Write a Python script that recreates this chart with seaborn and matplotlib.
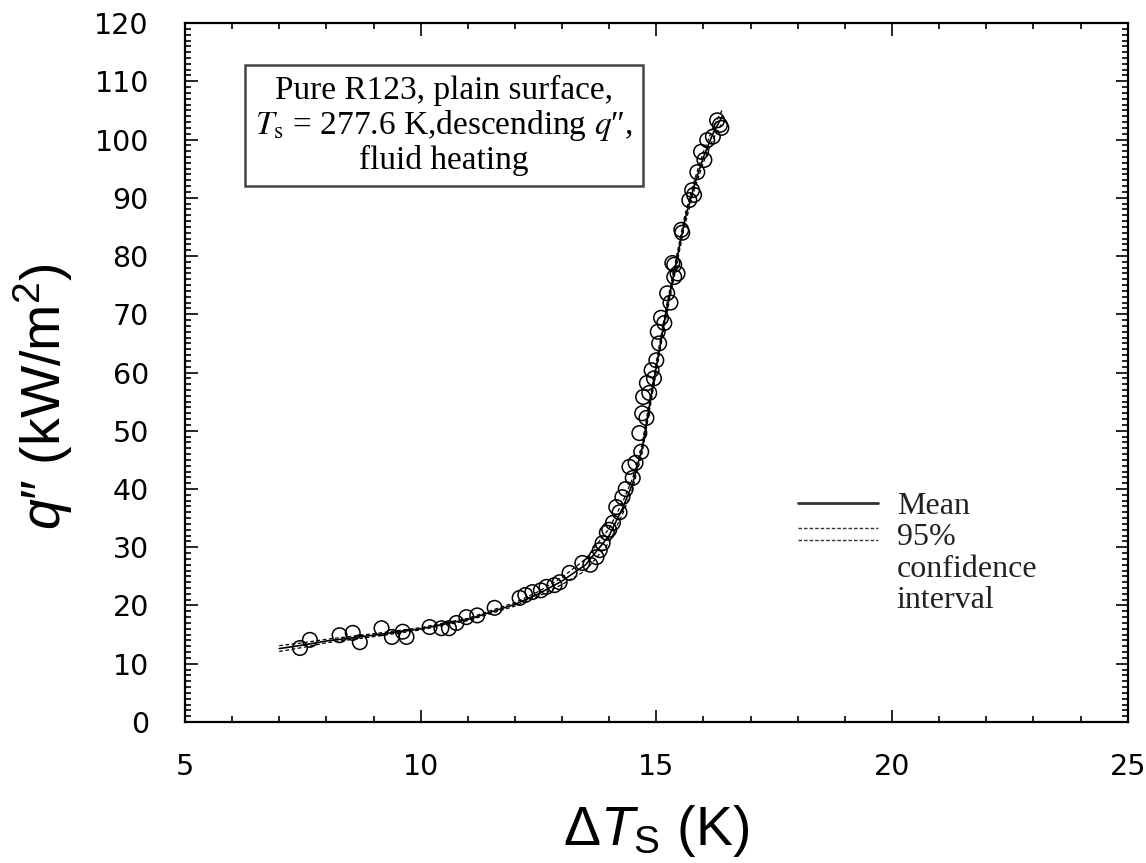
import numpy as np
import pandas as pd
import matplotlib
matplotlib.use("Agg")
import matplotlib.pyplot as plt
from matplotlib.ticker import MultipleLocator
import seaborn as sns

# measured points (delta T_s in K, q'' in kW/m2)
dts = [7.44, 7.65, 8.28, 8.56, 8.71, 9.17, 9.39, 9.62, 9.70, 10.19, 10.44, 10.60,
       10.76, 10.97, 11.20, 11.57, 12.10, 12.22, 12.37, 12.55, 12.67, 12.84, 12.95,
       13.16, 13.43, 13.60, 13.73, 13.80, 13.86, 13.95, 14.00, 14.08, 14.15, 14.22,
       14.28, 14.35, 14.43, 14.50, 14.56, 14.64, 14.68, 14.70, 14.72, 14.79, 14.80,
       14.85, 14.90, 14.95, 15.00, 15.03, 15.06, 15.10, 15.17, 15.23, 15.30, 15.34,
       15.38, 15.38, 15.45, 15.53, 15.55, 15.70, 15.76, 15.80, 15.87, 15.95, 16.02,
       16.08, 16.20, 16.29, 16.35, 16.38]
q = [12.7, 14.1, 14.9, 15.3, 13.7, 16.1, 14.6, 15.5, 14.6, 16.3, 16.1, 16.1,
     17.0, 18.0, 18.3, 19.6, 21.3, 21.8, 22.3, 22.6, 23.2, 23.5, 24.0,
     25.6, 27.3, 27.0, 28.3, 29.5, 30.7, 32.5, 33.0, 34.2, 36.9, 36.0,
     38.6, 40.0, 43.8, 41.9, 44.5, 49.6, 46.4, 53.0, 55.8, 52.2, 58.2,
     56.5, 60.4, 59.0, 62.1, 67.0, 65.0, 69.4, 68.5, 73.6, 72.0, 78.8,
     78.5, 76.4, 77.0, 84.5, 84.0, 89.6, 91.3, 90.5, 94.4, 97.9, 96.5,
     99.9, 100.5, 103.3, 102.5, 102.0]

# fitted mean and 95% confidence band
fit_dt = [7.0, 7.5, 8.0, 9.0, 10.0, 11.0, 12.0, 12.5, 13.0, 13.5, 14.0, 14.3, 14.5,
          14.7, 14.85, 15.0, 15.2, 15.4, 15.6, 15.8, 16.0, 16.2, 16.4]
fit_q = [12.6, 13.2, 13.9, 14.9, 16.0, 17.6, 20.2, 22.0, 24.2, 27.0, 32.0, 37.0, 41.0,
         47.0, 54.0, 61.0, 70.0, 78.0, 86.0, 92.0, 97.0, 101.0, 104.0]
ci_half = [0.5, 0.4, 0.3, 0.25, 0.2, 0.2, 0.3, 0.4, 0.6, 1.0, 1.2, 1.0, 0.9,
           0.8, 0.8, 0.8, 0.8, 0.8, 0.8, 0.8, 0.9, 1.0, 1.1]

sns.set_style("ticks")
plt.rcParams['font.family'] = ['Liberation Sans', 'DejaVu Sans']
plt.rcParams['mathtext.fontset'] = 'custom'
plt.rcParams['mathtext.rm'] = 'Liberation Sans'
plt.rcParams['mathtext.it'] = 'Liberation Sans:italic'
plt.rcParams['text.color'] = 'black'
plt.rcParams['axes.labelcolor'] = 'black'
plt.rcParams['xtick.color'] = 'black'
plt.rcParams['ytick.color'] = 'black'
plt.rcParams['axes.edgecolor'] = 'black'

pts = pd.DataFrame({'dT': dts, 'q': q})
fit = pd.DataFrame({'dT': fit_dt, 'q': fit_q})
fit['lo'] = fit['q'] - np.array(ci_half)
fit['hi'] = fit['q'] + np.array(ci_half)

fig = plt.figure(figsize=(11.46, 8.63), dpi=100)
ax = fig.add_axes([0.1614, 0.1634, 0.8226, 0.8099])

sns.lineplot(data=fit, x='dT', y='lo', ax=ax, color='black', lw=0.9, ls=(0, (3, 2)))
sns.lineplot(data=fit, x='dT', y='hi', ax=ax, color='black', lw=0.9, ls=(0, (3, 2)))
sns.lineplot(data=fit, x='dT', y='q', ax=ax, color='black', lw=1.2)
sns.scatterplot(data=pts, x='dT', y='q', ax=ax, marker='o', s=110,
                facecolor='none', edgecolor='black', linewidth=1.1, zorder=3)

ax.set_xlim(5, 25)
ax.set_ylim(0, 120)
ax.xaxis.set_major_locator(MultipleLocator(5))
ax.xaxis.set_minor_locator(MultipleLocator(1))
ax.yaxis.set_major_locator(MultipleLocator(10))
ax.yaxis.set_minor_locator(MultipleLocator(1))
ax.tick_params(which='both', direction='in', top=True, right=True, width=1.2)
ax.tick_params(which='major', length=9)
ax.tick_params(which='minor', length=4.5)
ax.tick_params(axis='x', which='major', pad=22, labelsize=20.5)
ax.tick_params(axis='y', which='major', pad=26, labelsize=20.5)
for lab in ax.get_xticklabels() + ax.get_yticklabels():
    lab.set_family('DejaVu Sans')
for sp in ax.spines.values():
    sp.set_linewidth(1.6)

ax.set_xlabel("$\\Delta T_\\mathrm{S}$ (K)", fontsize=40, va='center')
ax.set_ylabel("$q$\u2033 (kW/m$^2$)", fontsize=40, va='center')
ax.xaxis.set_label_coords(0.5, -0.156)
ax.yaxis.set_label_coords(-0.150, 0.466)

ax.text(0.275, 0.853, "Pure R123, plain surface,\n$T_\\mathrm{s}$ = 277.6 K,descending $q$\u2033,\nfluid heating",
        transform=ax.transAxes, ha='center', va='center', fontsize=24,
        family=['Liberation Serif', 'DejaVu Serif'], math_fontfamily='stix', linespacing=1.08,
        bbox=dict(boxstyle='square,pad=0.3', facecolor='white', edgecolor='#444444', lw=1.8))

# legend drawn by hand
ax.plot([0.650, 0.735], [0.313, 0.313], transform=ax.transAxes, color='#333333', lw=2)
ax.plot([0.650, 0.735], [0.2775, 0.2775], transform=ax.transAxes, color='#333333', lw=1, ls=(0, (2.5, 1.5)))
ax.plot([0.650, 0.735], [0.260, 0.260], transform=ax.transAxes, color='#333333', lw=1, ls=(0, (2.5, 1.5)))
ax.text(0.755, 0.309, "Mean", transform=ax.transAxes, va='center', fontsize=23,
        family='Liberation Serif', color='#222222')
ax.text(0.755, 0.284, "95%\nconfidence\ninterval", transform=ax.transAxes, va='top',
        fontsize=23, family='Liberation Serif', linespacing=1.1, color='#222222')

fig.savefig("out.png", dpi=100)
